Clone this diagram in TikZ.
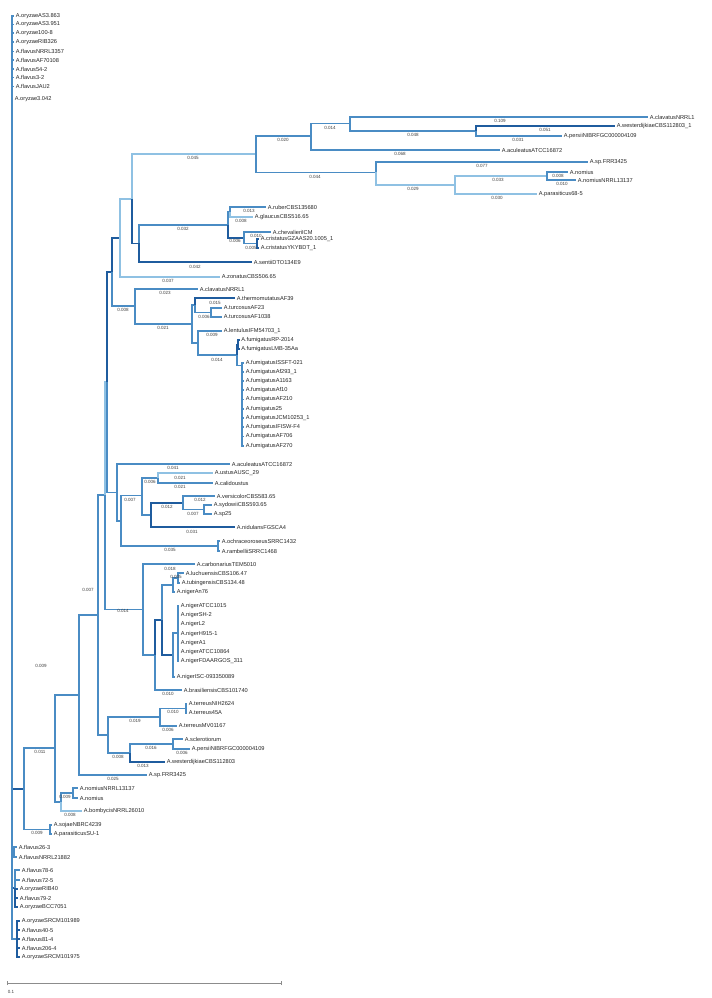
\documentclass[tikz,border=0pt]{standalone}
\usepackage{fontspec}
\setmainfont{Liberation Sans}
\definecolor{cdark}{HTML}{1F5C9E}
\definecolor{cmid}{HTML}{4A8CC4}
\definecolor{clight}{HTML}{8FC1E3}
\tikzset{
 lf/.style={anchor=west, inner xsep=1.2pt, inner ysep=0pt, font=\fontsize{4.25}{5}\selectfont, text=black!85},
 blab/.style={inner sep=0pt, font=\fontsize{3.4}{4}\selectfont, text=black!75},
 dk/.style={draw=cdark, line width=0.9pt},
 md/.style={draw=cmid, line width=0.9pt},
 lt/.style={draw=clight, line width=1.2pt},
}
\newcommand\lv[6]{\node[lf] (#1) at (#3,#4) {#5}; \draw[#6] (#2) |- (#1.west);}
\newcommand\ed[3]{\draw[#3] (#1) |- (#2);}
\newcommand\bb[4]{\node[blab] (#1) at (#2,#3) {#4};}
\begin{document}
\begin{tikzpicture}[x=0.75pt,y=-0.75pt]
\useasboundingbox (0,0) rectangle (711,998);
\fill[white] (0,0) rectangle (711,998);
% ---------- coordinates of internal nodes
\coordinate (root) at (12,480);
\coordinate (nP) at (24,789);
\coordinate (nJ) at (55,748);
\coordinate (nI) at (79,695);
\coordinate (nH) at (98,615);
\coordinate (nE) at (105,495);
\coordinate (nC) at (107,382);
\coordinate (nB) at (112,272);
\coordinate (nA) at (120,238);
\coordinate (n1) at (132,199);
\coordinate (n2) at (256,154);
\coordinate (n3) at (311,136);
\coordinate (n4) at (350,123.5);
\coordinate (n5) at (476,131);
\coordinate (n6) at (376,172.5);
\coordinate (n7) at (455,185);
\coordinate (n8) at (547,176);
\coordinate (n9) at (139,243.5);
\coordinate (n10) at (228,225);
\coordinate (n11) at (230,212);
\coordinate (n12) at (244,238);
\coordinate (n13) at (257,243.5);
\coordinate (nF) at (135,306);
\coordinate (nF2) at (192,324);
\coordinate (nT) at (195,305);
\coordinate (nTu) at (211,312.5);
\coordinate (nL) at (198,343);
\coordinate (nFa) at (237,355);
\coordinate (nRP) at (238,344.5);
\coordinate (nFb) at (242,365.5);
\coordinate (nN1) at (117,492.5);
\coordinate (nN1b) at (121,521);
\coordinate (nN2) at (142,495.5);
\coordinate (nU) at (158,478);
\coordinate (nV1) at (151,515);
\coordinate (nV2) at (183,503);
\coordinate (nV3) at (204,509.5);
\coordinate (nO) at (218,546);
\coordinate (nG) at (143,609.5);
\coordinate (nG2) at (155,655);
\coordinate (nG3) at (162,620);
\coordinate (nNV) at (173,585);
\coordinate (nNV2) at (178,578);
\coordinate (nW) at (173,655);
\coordinate (nW2) at (178,633);
\coordinate (nT0) at (108,735);
\coordinate (nTe) at (160,717);
\coordinate (nTe2) at (186,708.5);
\coordinate (nS) at (130,753);
\coordinate (nS2) at (173,744);
\coordinate (nK) at (61,802);
\coordinate (nK2) at (73,793);
\coordinate (nSo) at (50,829.5);
\coordinate (nFl1) at (14,852);
\coordinate (nFl2) at (15,888);
\coordinate (nFl3) at (17,939);
% ---------- top cluster on the root spine
\lv{t1}{root}{14}{16}{A.oryzaeAS3.863}{md}
\lv{t2}{root}{14}{24.5}{A.oryzaeAS3.951}{md}
\lv{t3}{root}{14}{33}{A.oryzae100-8}{md}
\lv{t4}{root}{14}{42}{A.oryzaeRIB326}{md}
\lv{t5}{root}{14}{51.5}{A.flavusNRRL3357}{md}
\lv{t6}{root}{14}{60}{A.flavusAF70108}{md}
\lv{t7}{root}{14}{69}{A.flavus54-2}{md}
\lv{t8}{root}{14}{77.5}{A.flavus3-2}{md}
\lv{t9}{root}{14}{86.5}{A.flavusJAU2}{md}
\lv{t10}{root}{13}{99}{A.oryzae3.042}{md}
% ---------- backbone
\ed{root}{nP}{dk}
\ed{nP}{nJ}{md}
\ed{nJ}{nI}{md}
\ed{nI}{nH}{md}
\ed{nH}{nE}{md}
\ed{nE}{nC}{lt}
\ed{nC}{nB}{dk}
\ed{nB}{nA}{dk}
\ed{nA}{n1}{lt}
% ---------- upper clade
\ed{n1}{n2}{lt}
\ed{n2}{n3}{md}
\ed{n3}{n4}{md}
\lv{u1}{n4}{648}{117}{A.clavatusNRRL1}{md}
\ed{n4}{n5}{md}
\lv{u2}{n5}{615}{126}{A.westerdijkiaeCBS112803\_1}{dk}
\lv{u3}{n5}{562}{136}{A.persiiNIBRFGC000004109}{md}
\lv{u4}{n3}{500}{150}{A.aculeatusATCC16872}{md}
\ed{n2}{n6}{md}
\lv{u5}{n6}{588}{162}{A.sp.FRR3425}{md}
\ed{n6}{n7}{lt}
\ed{n7}{n8}{lt}
\lv{u6}{n8}{568}{172}{A.nomius}{md}
\lv{u7}{n8}{576}{180}{A.nomiusNRRL13137}{md}
\lv{u8}{n7}{537}{194}{A.parasiticus68-5}{lt}
\bb{e1}{193}{158}{0.045}
\bb{e2}{283}{140}{0.020}
\bb{e3}{330}{127.5}{0.014}
\bb{e4}{500}{121}{0.109}
\bb{e5}{413}{134.5}{0.048}
\bb{e6}{545}{130}{0.051}
\bb{e7}{518}{140}{0.031}
\bb{e8}{400}{153.5}{0.068}
\bb{e9}{315}{177}{0.044}
\bb{e10}{482}{166}{0.077}
\bb{e11}{413}{188.5}{0.029}
\bb{e12}{498}{180}{0.033}
\bb{e13}{558}{175.5}{0.008}
\bb{e14}{562}{184}{0.010}
\bb{e15}{497}{198}{0.030}
% ---------- Aspergillus clade 2
\ed{n1}{n9}{dk}
\ed{n9}{n10}{md}
\ed{n10}{n11}{md}
\lv{v1}{n11}{266}{207}{A.ruberCBS135680}{md}
\lv{v2}{n11}{253}{217}{A.glaucusCBS516.65}{lt}
\ed{n10}{n12}{dk}
\lv{v3}{n12}{271}{232}{A.chevalieriICM}{md}
\ed{n12}{n13}{md}
\lv{v4}{n13}{259}{239}{A.cristatusGZAAS20.1005\_1}{dk}
\lv{v5}{n13}{259}{248}{A.cristatusYKYBDT\_1}{dk}
\lv{v6}{n9}{252}{262}{A.sentiiDTO134E9}{dk}
\lv{v7}{nA}{220}{277}{A.zonatusCBS506.65}{lt}
\bb{e16}{183}{228.5}{0.032}
\bb{e17}{249}{211}{0.013}
\bb{e18}{241}{221}{0.008}
\bb{e19}{235}{241}{0.006}
\bb{e20}{256}{235.5}{0.010}
\bb{e21}{251}{248}{0.005}
\bb{e22}{195}{266.5}{0.042}
\bb{e23}{168}{281}{0.037}
% ---------- Fumigati
\ed{nB}{nF}{md}
\lv{w1}{nF}{198}{289}{A.clavatusNRRL1}{md}
\ed{nF}{nF2}{md}
\ed{nF2}{nT}{md}
\lv{w2}{nT}{235}{298}{A.thermomutatusAF39}{dk}
\ed{nT}{nTu}{md}
\lv{w3}{nTu}{222}{308}{A.turcosusAF23}{md}
\lv{w4}{nTu}{222}{317}{A.turcosusAF1038}{md}
\ed{nF2}{nL}{md}
\lv{w5}{nL}{222}{331}{A.lentulusIFM54703\_1}{md}
\ed{nL}{nFa}{md}
\ed{nFa}{nRP}{dk}
\lv{w6}{nRP}{239.5}{340}{A.fumigatusRP-2014}{dk}
\lv{w7}{nRP}{239.5}{349}{A.fumigatusLMB-35Aa}{dk}
\ed{nFa}{nFb}{md}
\lv{f1}{nFb}{244}{363}{A.fumigatusISSFT-021}{md}
\lv{f2}{nFb}{244}{372}{A.fumigatusAf293\_1}{md}
\lv{f3}{nFb}{244}{381}{A.fumigatusA1163}{md}
\lv{f4}{nFb}{244}{390}{A.fumigatusAf10}{md}
\lv{f5}{nFb}{244}{399.5}{A.fumigatusAF210}{md}
\lv{f6}{nFb}{244}{409}{A.fumigatus25}{md}
\lv{f7}{nFb}{244}{418}{A.fumigatusJCM10253\_1}{md}
\lv{f8}{nFb}{244}{427}{A.fumigatusIFISW-F4}{md}
\lv{f9}{nFb}{244}{436.5}{A.fumigatusAF706}{md}
\lv{f10}{nFb}{244}{446}{A.fumigatusAF270}{md}
\bb{e24}{123}{310}{0.008}
\bb{e25}{165}{293}{0.023}
\bb{e26}{163}{328}{0.021}
\bb{e27}{215}{302.5}{0.015}
\bb{e28}{204}{316.5}{0.006}
\bb{e29}{212}{335}{0.009}
\bb{e30}{217}{360}{0.014}
% ---------- clade with aculeatus / nidulans
\ed{nC}{nN1}{md}
\lv{x1}{nN1}{230}{464}{A.aculeatusATCC16872}{md}
\ed{nN1}{nN1b}{md}
\ed{nN1b}{nN2}{md}
\ed{nN2}{nU}{md}
\lv{x2}{nU}{213}{473}{A.ustusAUSC\_29}{lt}
\lv{x3}{nU}{213}{483}{A.calidoustus}{md}
\ed{nN2}{nV1}{md}
\ed{nV1}{nV2}{dk}
\lv{x4}{nV2}{215}{496}{A.versicolorCBS583.65}{md}
\ed{nV2}{nV3}{md}
\lv{x5}{nV3}{212}{505}{A.sydowiiCBS593.65}{md}
\lv{x6}{nV3}{212}{514}{A.sp25}{md}
\lv{x7}{nV1}{235}{527}{A.nidulansFGSCA4}{dk}
\ed{nN1b}{nO}{md}
\lv{x8}{nO}{220}{541}{A.ochraceoroseusSRRC1432}{md}
\lv{x9}{nO}{220}{551}{A.rambelliiSRRC1468}{md}
\bb{e31}{173}{468}{0.041}
\bb{e32}{180}{477.5}{0.021}
\bb{e33}{180}{487}{0.021}
\bb{e34}{150}{482}{0.006}
\bb{e35}{130}{499.5}{0.007}
\bb{e36}{200}{500}{0.012}
\bb{e37}{167}{507}{0.012}
\bb{e38}{193}{513.5}{0.007}
\bb{e39}{192}{531.5}{0.031}
\bb{e40}{170}{550}{0.035}
% ---------- Nigri
\ed{nE}{nG}{md}
\lv{y1}{nG}{195}{564}{A.carbonariusTEM5010}{md}
\ed{nG}{nG2}{md}
\ed{nG2}{nG3}{dk}
\ed{nG3}{nNV}{md}
\ed{nNV}{nNV2}{md}
\lv{y2}{nNV2}{184}{573}{A.luchuensisCBS106.47}{md}
\lv{y3}{nNV2}{180}{583}{A.tubingensisCBS134.48}{md}
\lv{y4}{nNV}{175}{592}{A.nigerAn76}{md}
\ed{nG3}{nW}{dk}
\ed{nW}{nW2}{md}
\lv{y5}{nW2}{179}{606}{A.nigerATCC1015}{md}
\lv{y6}{nW2}{179}{615.5}{A.nigerSH-2}{md}
\lv{y7}{nW2}{179}{624.5}{A.nigerL2}{md}
\lv{y8}{nW2}{179}{634}{A.nigerH915-1}{md}
\lv{y9}{nW2}{179}{643}{A.nigerA1}{md}
\lv{y10}{nW2}{179}{652}{A.nigerATCC10864}{md}
\lv{y11}{nW2}{179}{661}{A.nigerFDAARGOS\_311}{md}
\lv{y12}{nW}{175}{677}{A.nigerISC-093350089}{md}
\lv{y13}{nG2}{182}{690}{A.brasiliensisCBS101740}{md}
\bb{e41}{123}{611}{0.014}
\bb{e42}{170}{568.5}{0.018}
\bb{e43}{176}{577}{0.005}
\bb{e44}{168}{694}{0.010}
% ---------- Terrei / Circumdati
\ed{nH}{nT0}{md}
\ed{nT0}{nTe}{md}
\ed{nTe}{nTe2}{md}
\lv{z1}{nTe2}{187}{704}{A.terreusNIH2624}{md}
\lv{z2}{nTe2}{187}{713}{A.terreus45A}{md}
\lv{z3}{nTe}{177}{726}{A.terreusMV01167}{md}
\ed{nT0}{nS}{md}
\ed{nS}{nS2}{md}
\lv{z4}{nS2}{183}{739}{A.sclerotiorum}{md}
\lv{z5}{nS2}{190}{749}{A.persiiNIBRFGC000004109}{md}
\lv{z6}{nS}{165}{762}{A.westerdijkiaeCBS112803}{dk}
\lv{z7}{nI}{147}{775}{A.sp.FRR3425}{md}
\bb{e45}{135}{721}{0.019}
\bb{e46}{173}{712}{0.010}
\bb{e47}{168}{730}{0.006}
\bb{e48}{118}{757}{0.008}
\bb{e49}{151}{748}{0.016}
\bb{e50}{182}{753}{0.006}
\bb{e51}{143}{766}{0.013}
\bb{e52}{113}{779}{0.025}
% ---------- Flavi lower
\ed{nJ}{nK}{md}
\ed{nK}{nK2}{md}
\lv{k1}{nK2}{78}{788}{A.nomiusNRRL13137}{md}
\lv{k2}{nK2}{78}{798}{A.nomius}{md}
\lv{k3}{nK}{82}{811}{A.bombycisNRRL26010}{lt}
\ed{nP}{nSo}{md}
\lv{k4}{nSo}{52}{825}{A.sojaeNBRC4239}{md}
\lv{k5}{nSo}{52}{834}{A.parasiticusSU-1}{md}
\bb{e53}{40}{752}{0.011}
\bb{e54}{41}{666}{0.009}
\bb{e55}{65}{797}{0.009}
\bb{e56}{70}{815}{0.008}
\bb{e57}{37}{833}{0.009}
\bb{e58}{88}{590}{0.007}
% ---------- bottom flavus / oryzae clusters
\ed{root}{nFl1}{dk}
\lv{m1}{nFl1}{17}{847}{A.flavus26-3}{md}
\lv{m2}{nFl1}{17}{857}{A.flavusNRRL21882}{md}
\ed{root}{nFl2}{dk}
\lv{m3}{nFl2}{20}{870}{A.flavus78-6}{md}
\lv{m4}{nFl2}{20}{880}{A.flavus72-5}{md}
\lv{m5}{nFl2}{18}{889}{A.oryzaeRIB40}{dk}
\lv{m6}{nFl2}{18}{898}{A.flavus79-2}{dk}
\lv{m7}{nFl2}{18}{907}{A.oryzaeBCC7051}{dk}
\ed{root}{nFl3}{md}
\lv{m8}{nFl3}{20}{921}{A.oryzaeSRCM101989}{dk}
\lv{m9}{nFl3}{20}{930}{A.flavus40-5}{dk}
\lv{m10}{nFl3}{20}{939}{A.flavus81-4}{dk}
\lv{m11}{nFl3}{20}{948}{A.flavus206-4}{dk}
\lv{m12}{nFl3}{20}{957}{A.oryzaeSRCM101975}{dk}
% ---------- scale bar
\coordinate (s1) at (7,983);
\coordinate (s2) at (281,983);
\draw[black!45, line width=0.6pt] (s1) -- (s2);
\draw[black!45, line width=0.6pt] ([yshift=-1.5]s1) -- ([yshift=1.5]s1);
\draw[black!45, line width=0.6pt] ([yshift=-1.5]s2) -- ([yshift=1.5]s2);
\bb{sc}{11}{992}{0.1}
\end{tikzpicture}
\end{document}
